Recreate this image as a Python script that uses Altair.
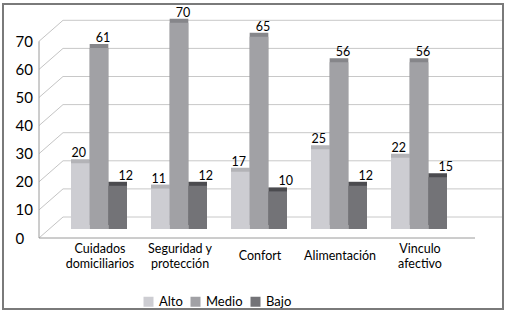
import altair as alt
import pandas as pd

# ---- data ----
categories = ["Cuidados domiciliarios", "Seguridad y protección", "Confort",
              "Alimentación", "Vinculo afectivo"]
label_lines = [["Cuidados", "domiciliarios"], ["Seguridad y", "protección"],
               ["Confort"], ["Alimentación"], ["Vinculo", "afectivo"]]
series = ["Alto", "Medio", "Bajo"]
alto = [20, 11, 17, 25, 22]
medio = [61, 70, 65, 56, 56]
bajo = [12, 12, 10, 12, 15]
y_ticks = [0, 10, 20, 30, 40, 50, 60, 70]

front_colors = ["#cdcdd2", "#a1a1a5", "#737377"]
side_colors = ["#b3b3b7", "#86868a", "#4b4b4f"]
FONT = "Lato"

rows = []
for s, vals in zip(series, [alto, medio, bajo]):
    for c, v in zip(categories, vals):
        rows.append({"cat": c, "series": s, "v": v, "base": 0})
df = pd.DataFrame(rows)
grid_df = pd.DataFrame({"v": y_ticks})
wall_df = pd.DataFrame({"v": [y_ticks[0]], "hi": [y_ticks[-1]]})

yscale = alt.Scale(domain=[-31.85, 76.69], nice=False, zero=False)
xscale = alt.Scale(domain=categories, range=[56, 456], paddingInner=0.3, paddingOuter=0.15)
xoff = alt.XOffset("series:N", sort=series, scale=alt.Scale(domain=series))

expr_parts = []
for c, ln in zip(categories, label_lines):
    arr = "[" + ",".join("'" + t + "'" for t in ln) + "]"
    expr_parts.append(f"datum.label == '{c}' ? {arr} : ")
label_expr = "".join(expr_parts) + "datum.label"
two_line = [c for c, ln in zip(categories, label_lines) if len(ln) > 1]
two_line_test = "indexof([" + ",".join("'" + c + "'" for c in two_line) + "], datum.value) >= 0"

x_axis = alt.Axis(orient="bottom", offset=-53.5, tickSize=0, ticks=False,
                  labelPadding=alt.condition(two_line_test, alt.value(-7.5), alt.value(0)),
                  domain=False, grid=False, labelAngle=0, labelBaseline="middle",
                  labelLineHeight=15, labelFontSize=12.5, labelFont=FONT, labelColor="#000",
                  labelExpr=label_expr, title=None, labelOffset=1)
y_axis = alt.Axis(orient="left", offset=-12, values=y_ticks, labelPadding=0, tickSize=0,
                  ticks=False, domain=False, grid=False, labelAlign="left",
                  labelBaseline="middle", labelOffset=18.5, labelFontSize=15,
                  labelFont=FONT, labelColor="#000", title=None)


def X():
    return alt.X("cat:N", sort=categories, scale=xscale, axis=x_axis, title=None)


def Y(field="v:Q"):
    return alt.Y(field, scale=yscale, axis=y_axis, title=None)


grid = alt.Chart(grid_df).mark_rule(color="#c8c8c8", strokeWidth=1, yOffset=-2.5).encode(
    y=Y(), x=alt.value(60), x2=alt.value(499))

diag = alt.Chart(grid_df).mark_point(shape="M-1,0.875L1,-0.875", size=576, filled=False,
                                     color="#c4c4c4", strokeWidth=1, opacity=1, yOffset=8).encode(
    y=Y(), x=alt.value(48))

front_axis = alt.Chart(wall_df).mark_rule(color="#9a9a9a", strokeWidth=1, yOffset=18.5,
                                          y2Offset=18.5).encode(
    x=alt.value(36), y=Y(), y2="hi:Q")
floor = alt.Chart(wall_df).mark_rule(color="#9a9a9a", strokeWidth=1, yOffset=18.5).encode(
    y=Y(), x=alt.value(36), x2=alt.value(472))

side = alt.Chart(df).mark_bar(xOffset=5, yOffset=-4, y2Offset=5.5).encode(
    x=X(), xOffset=xoff, y=Y(), y2="base:Q",
    color=alt.Color("series:N", scale=alt.Scale(domain=series, range=side_colors), legend=None))

front = alt.Chart(df).mark_bar(y2Offset=9.5).encode(
    x=X(), xOffset=xoff, y=Y(), y2="base:Q",
    color=alt.Color("series:N", sort=series,
                    scale=alt.Scale(domain=series, range=front_colors),
                    legend=alt.Legend(title=None, orient="none", direction="horizontal",
                                      legendX=139, legendY=291, symbolType="square",
                                      symbolSize=100, symbolStrokeWidth=0, labelFontSize=13,
                                      labelFont=FONT, labelColor="#000", columnPadding=6,
                                      labelOffset=4, padding=0)))

texts = []
for s, dx in zip(series, [-1.5, 4, 8]):
    texts.append(alt.Chart(df).transform_filter(alt.datum.series == s).mark_text(
        baseline="alphabetic", dy=-6, dx=dx, fontSize=12.5, font=FONT, color="#000").encode(
        x=X(), xOffset=xoff, y=Y(), text="v:Q"))

chart = alt.layer(grid, diag, front_axis, floor, side, front, *texts).resolve_scale(
    color="independent"
).properties(
    width=500, height=305,
    padding={"left": 3, "top": 4, "right": 7, "bottom": 1},
    autosize=alt.AutoSizeParams(type="none"),
    background="#ffffff",
).configure_view(stroke="#7a7a7a", strokeWidth=2)

chart.save("out.html", embed_options={"renderer": "svg", "actions": False})
